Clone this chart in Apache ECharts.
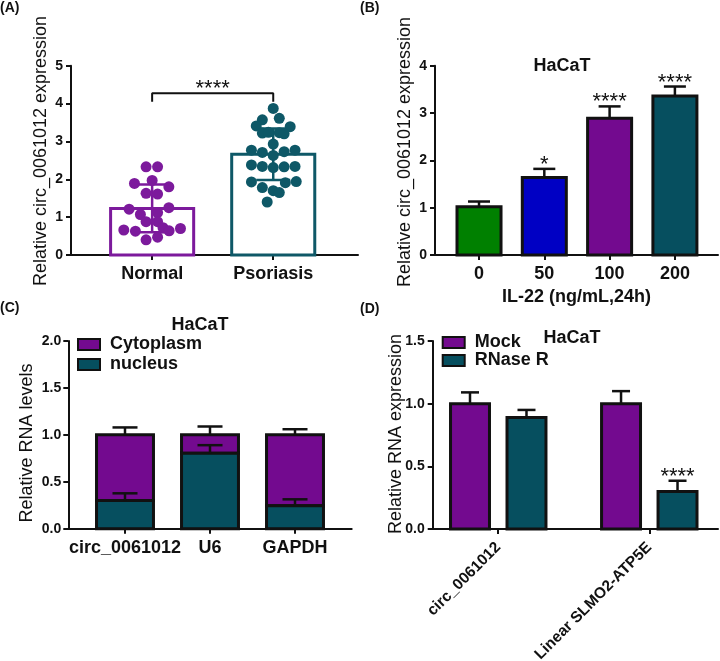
<!DOCTYPE html>
<html><head><meta charset="utf-8">
<script src="https://cdn.jsdelivr.net/npm/echarts@6/dist/echarts.min.js"></script>
<style>html,body{margin:0;padding:0;background:#fff}#c{width:720px;height:661px}</style>
</head><body><div id="c"></div>
<script>
const FONT = '"Liberation Sans", Arial, sans-serif';
const INK = '#111111';
const PURPLE = '#730a8f', TEAL = '#064f5f', GREEN = '#008000', BLUE = '#0000c4';
const PURPLE_A = '#7c1a9c', TEAL_A = '#0e5867';

// ---------- Panel A data ----------
const catsA = ['Normal', 'Psoriasis'];
const meanA = [1.23, 2.66];
const sdA = [0.63, 0.68];
const normalVals = [2.33, 2.33, 1.89, 1.97, 1.80, 1.63, 1.61, 1.21, 1.07, 1.12, 1.25, 0.88, 0.88, 0.66, 0.63, 0.72, 0.64, 0.70, 0.40, 0.47];
const normalJitter = [-0.05, 0.045, -0.146, 0, 0.138, -0.05, 0.045, -0.19, -0.097, 0.045, 0.138, -0.05, 0.045, -0.234, -0.138, 0.09, 0.14, 0.234, -0.05, 0.045];
const psoriasisVals = [3.87, 3.57, 3.61, 3.41, 3.39, 3.22, 3.24, 3.23, 3.20, 2.93, 2.77, 2.71, 2.63, 2.73, 2.77, 2.38, 2.34, 2.31, 2.33, 2.34, 1.93, 1.78, 1.91, 1.94, 1.70, 1.65, 1.40];
const psoriasisJitter = [0.0, -0.09, 0.05, -0.14, 0.14, -0.09, -0.04, 0.05, 0.09, 0.0, -0.18, -0.09, 0.0, 0.09, 0.18, -0.18, -0.09, 0.0, 0.09, 0.18, -0.18, -0.09, 0.10, 0.19, 0.0, 0.05, -0.05];
const bracketA = [4.05, 4.27];
const sigA = '****';

// ---------- Panel B data ----------
const catsB = ['0', '50', '100', '200'];
const meanB = [1.02, 1.64, 2.89, 3.36];
const errB = [0.11, 0.18, 0.25, 0.20];
const sigB = ['', '*', '****', '****'];

// ---------- Panel C data ----------
const catsC = ['circ_0061012', 'U6', 'GAPDH'];
const nucleusC = [0.30, 0.805, 0.245];
const nucleusErrC = [0.077, 0.085, 0.068];
const cytoplasmC = [0.70, 0.195, 0.755];
const totalErrC = [0.079, 0.089, 0.06];

// ---------- Panel D data ----------
const catsD = ['circ_0061012', 'Linear SLMO2-ATP5E'];
const mockD = [1.0, 1.0];
const mockErrD = [0.09, 0.10];
const rnaseD = [0.89, 0.30];
const rnaseErrD = [0.06, 0.085];
const sigD = ['', '****'];

// ---------- helpers ----------
function barSeries(name, g, items, barW, fill, stroke, lw, z) {
  return {
    type: 'custom', name, xAxisIndex: g, yAxisIndex: g, data: items, z: z || 2,
    itemStyle: { color: fill, borderColor: stroke, borderWidth: lw },
    renderItem(params, api) {
      const x = api.value(0), v = api.value(1), b = api.value(2);
      const top = api.coord([x, v]), bot = api.coord([x, b]);
      const w = api.size([barW, 0])[0];
      return { type: 'rect', shape: { x: top[0] - w / 2, y: top[1], width: w, height: bot[1] - top[1] },
        style: { fill, stroke, lineWidth: lw } };
    }
  };
}
function errSeries(g, items, capPx, color, lw, both) {
  return {
    type: 'custom', xAxisIndex: g, yAxisIndex: g, data: items, z: 4, silent: true,
    renderItem(params, api) {
      const x = api.value(0), m = api.value(1), e = api.value(2);
      const pTop = api.coord([x, m + e]);
      const pBot = api.coord([x, both ? m - e : m]);
      const h = capPx / 2;
      const st = { stroke: color, lineWidth: lw, fill: null };
      const ch = [
        { type: 'line', shape: { x1: pTop[0], y1: pTop[1], x2: pBot[0], y2: pBot[1] }, style: st },
        { type: 'line', shape: { x1: pTop[0] - h, y1: pTop[1], x2: pTop[0] + h, y2: pTop[1] }, style: st }
      ];
      if (both) ch.push({ type: 'line', shape: { x1: pBot[0] - h, y1: pBot[1], x2: pBot[0] + h, y2: pBot[1] }, style: st });
      return { type: 'group', children: ch };
    }
  };
}
function sigSeries(g, items, labels) {
  return {
    type: 'custom', xAxisIndex: g, yAxisIndex: g, data: items, z: 5, silent: true,
    renderItem(params, api) {
      const p = api.coord([api.value(0), api.value(1)]);
      return { type: 'text', x: p[0], y: p[1] - 4,
        style: { text: labels[params.dataIndex], fontFamily: FONT, fontSize: 22, fill: INK, align: 'center', verticalAlign: 'middle' } };
    }
  };
}
function xAxisCfg(g, min, max, cats, extra) {
  const idx = cats.map((c, i) => i);
  return Object.assign({
    type: 'value', gridIndex: g, min, max, splitLine: { show: false },
    axisLine: { show: true, onZero: false, lineStyle: { color: INK, width: 2 } },
    axisTick: { show: true, customValues: idx, length: 5, lineStyle: { color: INK, width: 2 } },
    axisLabel: { show: true, customValues: idx, formatter: v => cats[Math.round(v)], margin: 10,
      fontFamily: FONT, fontSize: 18, fontWeight: 'bold', color: INK }
  }, extra || {});
}
function yAxisCfg(g, max, interval, dec, margin) {
  return {
    type: 'value', gridIndex: g, min: 0, max, interval, splitLine: { show: false },
    axisLine: { show: true, onZero: false, lineStyle: { color: INK, width: 2 } },
    axisTick: { show: true, length: 5, lineStyle: { color: INK, width: 2 } },
    axisLabel: { margin, fontFamily: FONT, fontSize: 14, fontWeight: 'bold', color: INK,
      formatter: v => v.toFixed(dec) }
  };
}
function txt(text, x, y, size, weight, rot) {
  return { type: 'text', x, y, rotation: rot || 0, silent: true,
    style: { text, fontFamily: FONT, fontSize: size, fontWeight: weight, fill: INK, align: 'center', verticalAlign: 'middle' } };
}

// ---------- build series ----------
const series = [];
// A
const barWA = 0.686;
series.push(barSeries('Normal bar', 0, [[0, meanA[0], 0]], barWA, '#ffffff', PURPLE_A, 3));
series.push(barSeries('Psoriasis bar', 0, [[1, meanA[1], 0]], barWA, '#ffffff', TEAL_A, 3));
series.push(errSeries(0, [[0, meanA[0], sdA[0]]], 34, PURPLE_A, 2.5, true));
series.push(errSeries(0, [[1, meanA[1], sdA[1]]], 34, TEAL_A, 2.5, true));
series.push({ type: 'scatter', xAxisIndex: 0, yAxisIndex: 0, symbolSize: 11, z: 6, silent: true,
  itemStyle: { color: PURPLE_A, opacity: 1 }, data: normalVals.map((v, i) => [0 + normalJitter[i], v]) });
series.push({ type: 'scatter', xAxisIndex: 0, yAxisIndex: 0, symbolSize: 11, z: 6, silent: true,
  itemStyle: { color: TEAL_A, opacity: 1 }, data: psoriasisVals.map((v, i) => [1 + psoriasisJitter[i], v]) });
series.push({ type: 'line', xAxisIndex: 0, yAxisIndex: 0, symbol: 'none', silent: true, z: 5,
  lineStyle: { color: INK, width: 2 },
  data: [[0, bracketA[0]], [0, bracketA[1]], [1, bracketA[1]], [1, bracketA[0]]] });
series.push(sigSeries(0, [[0.5, bracketA[1]]], [sigA]));

// B
const colorsB = [GREEN, BLUE, PURPLE, TEAL];
catsB.forEach((c, i) => {
  series.push(barSeries('B' + c, 1, [[i, meanB[i], 0]], 0.674, colorsB[i], INK, 3));
});
series.push(errSeries(1, catsB.map((c, i) => [i, meanB[i], errB[i]]), 22, INK, 2.5, false));
series.push(sigSeries(1, catsB.map((c, i) => [i, meanB[i] + errB[i]]), sigB));

// C
series.push(barSeries('Cytoplasm', 2, catsC.map((c, i) => [i, nucleusC[i] + cytoplasmC[i], nucleusC[i]]), 0.67, PURPLE, INK, 3));
series.push(barSeries('nucleus', 2, catsC.map((c, i) => [i, nucleusC[i], 0]), 0.67, TEAL, INK, 3));
series.push(errSeries(2, catsC.map((c, i) => [i, nucleusC[i], nucleusErrC[i]]), 25, INK, 2.5, false));
series.push(errSeries(2, catsC.map((c, i) => [i, nucleusC[i] + cytoplasmC[i], totalErrC[i]]), 25, INK, 2.5, false));

// D
const offD = 0.187, barWD = 0.258;
series.push(barSeries('Mock', 3, catsD.map((c, i) => [i - offD, mockD[i], 0]), barWD, PURPLE, INK, 3));
series.push(barSeries('RNase R', 3, catsD.map((c, i) => [i + offD, rnaseD[i], 0]), barWD, TEAL, INK, 3));
series.push(errSeries(3, catsD.map((c, i) => [i - offD, mockD[i], mockErrD[i]]), 18, INK, 2.5, false));
series.push(errSeries(3, catsD.map((c, i) => [i + offD, rnaseD[i], rnaseErrD[i]]), 18, INK, 2.5, false));
series.push(sigSeries(3, catsD.map((c, i) => [i + offD, rnaseD[i] + rnaseErrD[i]]), sigD));

const legendText = { fontFamily: FONT, fontSize: 18, fontWeight: 'bold', color: INK, padding: [0, 0, 0, 5] };
const option = {
  animation: false,
  backgroundColor: '#ffffff',
  grid: [
    { left: 71, top: 65.7, width: 287, height: 189.3, outerBoundsMode: 'none', containLabel: false },
    { left: 435, top: 65.7, width: 283, height: 189.3, outerBoundsMode: 'none', containLabel: false },
    { left: 68.3, top: 341, width: 283.4, height: 187.7, outerBoundsMode: 'none', containLabel: false },
    { left: 432.7, top: 341, width: 285.3, height: 188, outerBoundsMode: 'none', containLabel: false }
  ],
  xAxis: [
    xAxisCfg(0, -0.67, 1.70, catsA),
    xAxisCfg(1, -0.674, 3.66, catsB, { name: 'IL-22 (ng/mL,24h)', nameLocation: 'middle', nameGap: 33,
      nameTextStyle: { fontFamily: FONT, fontSize: 18, fontWeight: 'bold', color: INK } }),
    xAxisCfg(2, -0.667, 2.667, catsC),
    (function () { const a = xAxisCfg(3, -0.434, 1.455, catsD); a.axisLabel.rotate = 45; a.axisLabel.margin = 16; a.axisLabel.fontSize = 15.5; return a; })()
  ],
  yAxis: [
    yAxisCfg(0, 5, 1, 0, 8),
    yAxisCfg(1, 4, 1, 0, 8),
    yAxisCfg(2, 2, 0.5, 1, 7),
    yAxisCfg(3, 1.5, 0.5, 1, 8)
  ],
  legend: [
    { left: 77, top: 334.5, orient: 'vertical', padding: 0, itemGap: 0, itemWidth: 22, itemHeight: 11, icon: 'rect',
      selectedMode: false, textStyle: Object.assign({ lineHeight: 20 }, legendText),
      data: [
        { name: 'Cytoplasm', itemStyle: { color: PURPLE, borderColor: INK, borderWidth: 2 } },
        { name: 'nucleus', itemStyle: { color: TEAL, borderColor: INK, borderWidth: 2 } }
      ] },
    { left: 441.7, top: 333.5, orient: 'vertical', padding: 0, itemGap: 0, itemWidth: 22, itemHeight: 11, icon: 'rect',
      selectedMode: false, textStyle: Object.assign({ lineHeight: 18 }, legendText),
      data: [
        { name: 'Mock', itemStyle: { color: PURPLE, borderColor: INK, borderWidth: 2 } },
        { name: 'RNase R', itemStyle: { color: TEAL, borderColor: INK, borderWidth: 2 } }
      ] }
  ],
  graphic: [
    { type: 'text', left: 0, top: 1, silent: true, style: { text: '(A)', fontFamily: FONT, fontSize: 14, fontWeight: 'bold', fill: INK } },
    { type: 'text', left: 360, top: 1, silent: true, style: { text: '(B)', fontFamily: FONT, fontSize: 14, fontWeight: 'bold', fill: INK } },
    { type: 'text', left: 0, top: 301, silent: true, style: { text: '(C)', fontFamily: FONT, fontSize: 14, fontWeight: 'bold', fill: INK } },
    { type: 'text', left: 360, top: 302, silent: true, style: { text: '(D)', fontFamily: FONT, fontSize: 14, fontWeight: 'bold', fill: INK } },
    txt('Relative circ_0061012 expression', 41.5, 151, 18, 'normal', Math.PI / 2),
    txt('Relative circ_0061012 expression', 405.5, 152, 18, 'normal', Math.PI / 2),
    txt('Relative RNA levels', 27, 443, 18, 'normal', Math.PI / 2),
    txt('Relative RNA expression', 396, 434, 18, 'normal', Math.PI / 2),
    txt('HaCaT', 562, 66, 18, 'bold'),
    txt('HaCaT', 200, 325, 18, 'bold'),
    txt('HaCaT', 572, 338, 18, 'bold')
  ],
  series
};
const chart = echarts.init(document.getElementById('c'), null, { renderer: 'canvas' });
chart.setOption(option);
</script>
</body></html>
